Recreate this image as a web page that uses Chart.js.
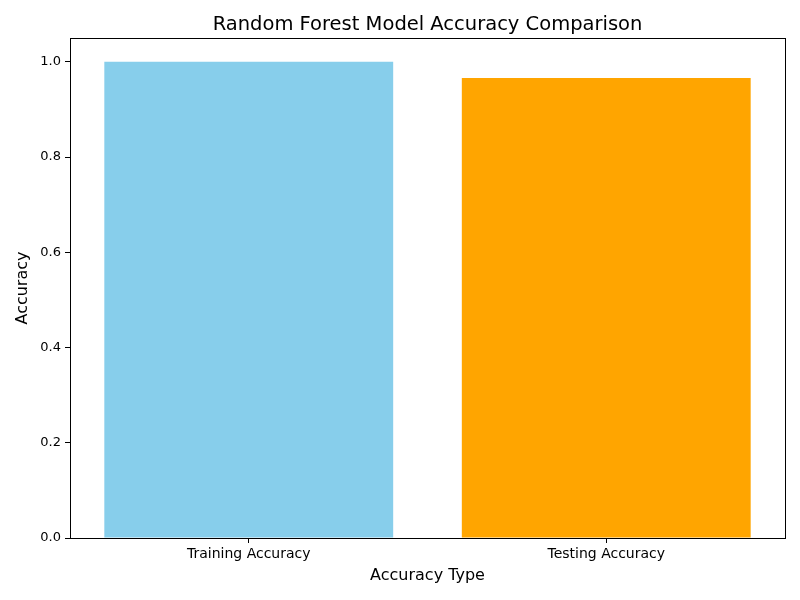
<!DOCTYPE html>
<html>
<head>
<meta charset="utf-8">
<script src="https://cdn.jsdelivr.net/npm/chart.js@4/dist/chart.umd.min.js"></script>
<style>
  html, body { margin: 0; padding: 0; background: #fff; }
  canvas { display: block; }
</style>
</head>
<body>
<canvas id="accChart" width="800" height="600"></canvas>
<script>
const categories = ["Training Accuracy", "Testing Accuracy"];
const accuracyValues = [1.0, 0.966];
const barColors = ["#87CEEB", "#FFA500"];
const yTicks = [0.0, 0.2, 0.4, 0.6, 0.8, 1.0];
const chartTitle = "Random Forest Model Accuracy Comparison";

const FONT = "'DejaVu Sans', sans-serif";

// matplotlib style full box around the plot area, title centred over the axes
const boxPlugin = {
  id: "box",
  afterDraw(chart) {
    const a = chart.chartArea;
    const c = chart.ctx;
    c.save();
    c.strokeStyle = "#000";
    c.lineWidth = 1;
    c.strokeRect(Math.round(a.left) + 0.5, Math.round(a.top) + 0.5,
      Math.round(a.right - a.left), Math.round(a.bottom - a.top));
    c.fillStyle = "#000";
    c.font = "19.5px " + FONT;
    c.textAlign = "center";
    c.textBaseline = "middle";
    c.fillText(chartTitle, (a.left + a.right) / 2, 25);
    c.restore();
  }
};

const ctx = document.getElementById("accChart").getContext("2d");
new Chart(ctx, {
  type: "bar",
  data: {
    labels: categories,
    datasets: [{
      data: accuracyValues,
      backgroundColor: barColors,
      borderWidth: 0,
      categoryPercentage: 1.0,
      barPercentage: 0.808
    }]
  },
  options: {
    responsive: false,
    animation: false,
    layout: { padding: { left: 13, right: 15, top: 38, bottom: 15 } },
    plugins: {
      legend: { display: false },
      tooltip: { enabled: false },
      title: { display: false }
    },
    scales: {
      x: {
        afterFit(scale) { scale.height = 47; },
        grid: { display: true, offset: false, drawOnChartArea: false, drawTicks: true, tickLength: 5, color: "#000" },
        border: { display: true, color: "#000" },
        ticks: { color: "#000", padding: 3, font: { family: FONT, size: 14 } },
        title: {
          display: true,
          text: "Accuracy Type",
          color: "#000",
          font: { family: FONT, size: 16 },
          padding: { top: 6, bottom: 0 }
        }
      },
      y: {
        min: 0,
        max: 1.05,
        afterFit(scale) { scale.width = 57; },
        afterBuildTicks(scale) { scale.ticks = yTicks.map(v => ({ value: v })); },
        grid: { display: true, drawOnChartArea: false, drawTicks: true, tickLength: 5, color: "#000" },
        border: { display: true, color: "#000" },
        ticks: {
          color: "#000",
          padding: 4,
          font: { family: FONT, size: 13 },
          callback: v => Number(v).toFixed(1)
        },
        title: {
          display: true,
          text: "Accuracy",
          color: "#000",
          font: { family: FONT, size: 16 },
          padding: { top: 0, bottom: 4 }
        }
      }
    }
  },
  plugins: [boxPlugin]
});
</script>
</body>
</html>
